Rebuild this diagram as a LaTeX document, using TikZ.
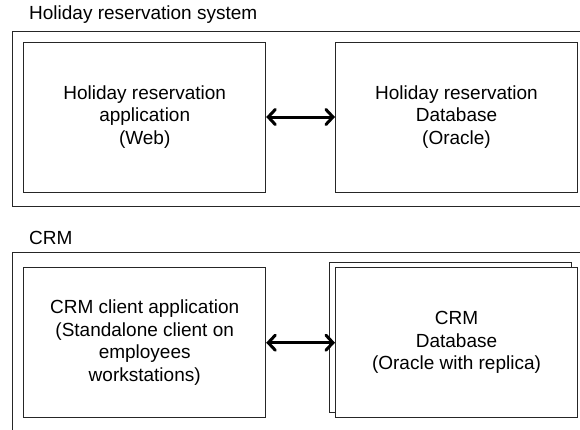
\documentclass[tikz,border=0pt]{standalone}
\usepackage{fontspec}
\setmainfont{Liberation Sans}
\usetikzlibrary{arrows.meta}
\tikzset{
  box/.style={draw=black!85, line width=1pt, fill=white, minimum width=242pt, minimum height=150pt, align=center, inner sep=0pt,
    font=\fontsize{19}{22.5}\selectfont},
  frame/.style={draw=black!85, line width=1pt},
  caption/.style={anchor=west, inner sep=0pt, font=\fontsize{19}{22}\selectfont},
  link/.style={line width=3pt, {Straight Barb[length=7pt,width=15pt,line cap=round]}-{Straight Barb[length=7pt,width=15pt,line cap=round]}}
}
\begin{document}
\begin{tikzpicture}[x=1pt,y=-1pt]
\useasboundingbox (0,0) rectangle (580,429);
% section 1
\node[caption] (t1) at (29,15) {Holiday reservation system};
\draw[frame] (582,31) -- (12,31) -- (12,206) -- (582,206);
\node[box] (app) at (144.7,117) {Holiday reservation\\application\\(Web)};
\node[box] (db) at (456.5,117) {Holiday reservation\\Database\\(Oracle)};
\draw[link] (app.east) -- (db.west);
% section 2
\node[caption] (t2) at (29,238) {CRM};
\draw[frame] (582,252) -- (12,252) -- (12,431);
\node[box] (crm) at (144.7,342.7) {CRM client application\\(Standalone client on\\employees\\workstations)};
\node[box] (rep) at (450.9,337.7) {};
\node[box] (crmdb) at (456.5,342.7) {CRM\\Database\\(Oracle with replica)};
\draw[link] (crm.east) -- (crmdb.west);
\end{tikzpicture}
\end{document}
